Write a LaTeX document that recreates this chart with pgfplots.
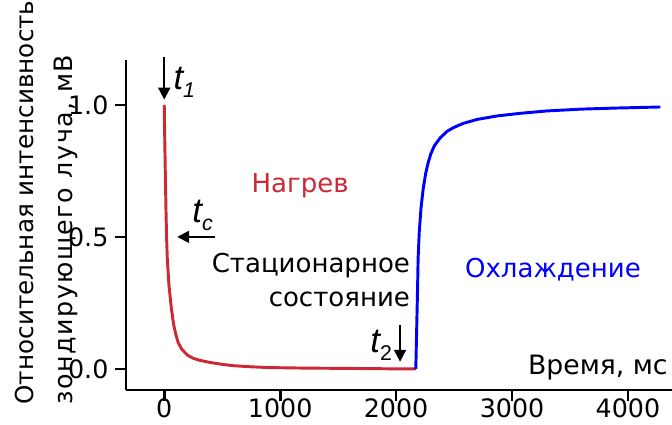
\documentclass[border=0pt]{standalone}
\usepackage{fontspec}
\setmainfont{DejaVu Sans}
\newfontfamily\tfont{Liberation Sans}
\newfontfamily\widefont[LetterSpace=6]{DejaVu Sans}
\usepackage{pgfplots}
\pgfplotsset{compat=1.18}
\usetikzlibrary{arrows.meta}
\definecolor{myred}{RGB}{204,40,54}
\definecolor{myblue}{RGB}{0,0,255}
\newcommand{\tlab}[1]{{\tfont\fontsize{26}{26}\selectfont\itshape t\raisebox{-6pt}{\fontsize{16}{16}\selectfont #1}}}
\begin{document}
\begin{tikzpicture}
\begin{axis}[name=ax, scale only axis, width=409.5pt, height=247.5pt,
 axis lines=left, axis line style={-, line width=2pt},
 xmin=-330, xmax=4380, ymin=-0.08, ymax=1.17,
 xtick={0,1000,2000,3000,4000}, ytick={0,0.5,1},
 tick align=outside, major tick length=8pt,
 tick style={line width=2pt, black},
 /pgf/number format/assume math mode=true,
 xticklabel style={/pgf/number format/1000 sep={}, font=\fontsize{19}{19}\selectfont, inner sep=1pt, yshift=3pt},
 yticklabel style={/pgf/number format/fixed, /pgf/number format/fixed zerofill, /pgf/number format/precision=1, font=\fontsize{19}{19}\selectfont, inner sep=2pt, xshift=-3pt},
 clip=false,
]
\addplot[myred, line width=2.2pt, line join=round] coordinates {
(0,1.0) (5,0.85) (10,0.72) (15,0.6) (20,0.5) (26,0.42) (40,0.32) (60,0.235)
(80,0.17) (100,0.13) (120,0.1) (150,0.075) (200,0.052) (250,0.04) (310,0.032)
(400,0.024) (500,0.017) (600,0.012) (740,0.008) (900,0.005) (1200,0.003)
(1500,0.002) (1800,0.001) (2000,0.0) (2170,0.0)};
\addplot[myblue, line width=2.2pt, line join=round] coordinates {
(2170,0.0) (2175,0.1) (2180,0.2) (2185,0.3) (2190,0.42) (2200,0.52) (2215,0.61)
(2233,0.68) (2255,0.74) (2276,0.78) (2300,0.815) (2330,0.845) (2380,0.875)
(2440,0.9) (2500,0.915) (2580,0.93) (2700,0.945) (2870,0.958) (3070,0.968)
(3300,0.977) (3600,0.984) (3900,0.988) (4280,0.992)};
\node[anchor=base, text=myred, inner sep=0, font=\fontsize{19.5}{19.5}\selectfont] at (axis cs:1172,0.667) {Нагрев};
\node[anchor=base east, inner sep=0, font=\fontsize{19.5}{19.5}\selectfont] at (axis cs:2121,0.364) {Стационарное};
\node[anchor=base east, inner sep=0, font=\fontsize{19.5}{19.5}\selectfont] at (axis cs:2121,0.235) {состояние};
\node[anchor=base, text=myblue, inner sep=0, font=\fontsize{19.5}{19.5}\selectfont] at (axis cs:3353,0.348) {Охлаждение};
\node[anchor=base east, inner sep=0, font=\fontsize{20}{20}\selectfont] at (axis cs:4345,-0.023) {Время, мс};
\draw[-{Triangle[length=9pt,width=9pt]}, line width=1.5pt] (axis cs:0,1.18) -- (axis cs:0,1.02);
\node[anchor=base west, inner sep=0] at (axis cs:78,1.057) {\tlab{1}};
\draw[-{Triangle[length=9pt,width=9pt]}, line width=1.5pt] (axis cs:440,0.5) -- (axis cs:112,0.5);
\node[anchor=base west, inner sep=0] at (axis cs:241,0.553) {\tlab{c}};
\draw[-{Triangle[length=9pt,width=9pt]}, line width=1.5pt] (axis cs:2034,0.167) -- (axis cs:2034,0.027);
\node[anchor=base west, inner sep=0] at (axis cs:1776,0.061) {\tlab{\upshape 2}};
\node[rotate=90, anchor=south west, align=left, inner sep=0, font=\fontsize{18.5}{29}\selectfont] at (rel axis cs:-0.088,-0.045) {Относительная интенсивность\\{\widefont\fontsize{19}{29}\selectfont зондирующего луча, мВ}};
\end{axis}
\pgfresetboundingbox
\path ([shift={(-94.5pt,-26.25pt)}]ax.south west) rectangle ([shift={(0pt,45pt)}]ax.north east);
\end{tikzpicture}
\end{document}
